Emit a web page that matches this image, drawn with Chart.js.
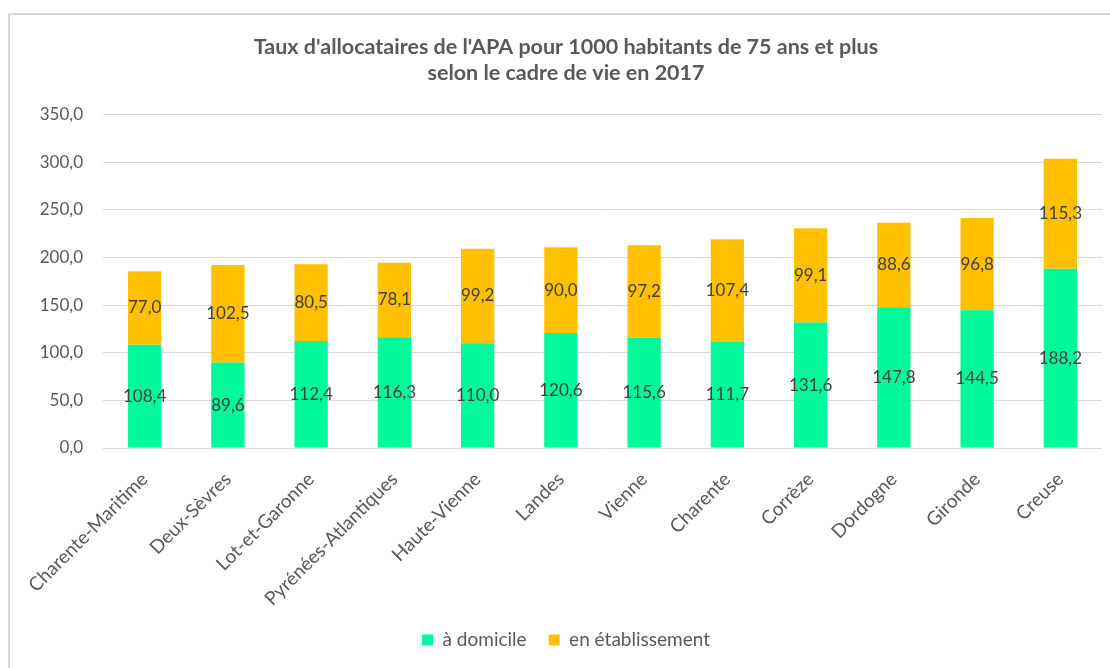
<!DOCTYPE html>
<html><head><meta charset="utf-8">
<script src="https://cdn.jsdelivr.net/npm/chart.js@4/dist/chart.umd.min.js"></script>
<style>
html,body{margin:0;padding:0;background:#fff;}
#frame{position:absolute;left:8px;top:13px;width:1200px;height:800px;border:2px solid #d9d9d9;box-sizing:border-box;}
#wrap{position:absolute;left:0;top:0;width:1110px;height:668px;}
</style></head>
<body>
<div id="frame"></div>
<div id="wrap"><canvas id="c" width="1110" height="668"></canvas></div>
<script>
const categories = ["Charente-Maritime","Deux-Sèvres","Lot-et-Garonne","Pyrénées-Atlantiques","Haute-Vienne","Landes","Vienne","Charente","Corrèze","Dordogne","Gironde","Creuse"];
const aDomicile = [108.4, 89.6, 112.4, 116.3, 110.0, 120.6, 115.6, 111.7, 131.6, 147.8, 144.5, 188.2];
const enEtablissement = [77.0, 102.5, 80.5, 78.1, 99.2, 90.0, 97.2, 107.4, 99.1, 88.6, 96.8, 115.3];
const yTicks = [0, 50, 100, 150, 200, 250, 300, 350];

const FONT = "Lato, 'Open Sans', sans-serif";
const fmt = v => v.toFixed(1).replace('.', ',');

const labelPlugin = {
  id: 'barLabels',
  afterDatasetsDraw(chart) {
    const ctx = chart.ctx;
    ctx.save();
    ctx.font = "17px " + FONT;
    ctx.fillStyle = "#404040";
    ctx.textAlign = "center";
    ctx.textBaseline = "middle";
    chart.data.datasets.forEach((ds, di) => {
      const meta = chart.getDatasetMeta(di);
      meta.data.forEach((bar, i) => {
        const y = (bar.y + bar.base) / 2;
        ctx.fillText(fmt(ds.data[i]), bar.x, y);
      });
    });
    ctx.restore();
  }
};

new Chart(document.getElementById('c'), {
  type: 'bar',
  data: {
    labels: categories,
    datasets: [
      { label: 'à domicile', data: aDomicile, backgroundColor: '#00F99A', barPercentage: 0.8, categoryPercentage: 0.5 },
      { label: 'en établissement', data: enEtablissement, backgroundColor: '#FFC000', barPercentage: 0.8, categoryPercentage: 0.5 }
    ]
  },
  plugins: [labelPlugin],
  options: {
    responsive: false,
    animation: false,
    layout: { padding: { left: 30, right: 8, top: 9, bottom: 8.5 } },
    plugins: {
      title: {
        display: true,
        text: ["Taux d'allocataires de l'APA pour 1000 habitants de 75 ans et plus", "selon le cadre de vie en 2017"],
        color: '#595959',
        font: { family: FONT, size: 21.5, weight: 'bold', lineHeight: 1.22 },
        padding: { top: 25, bottom: 28 }
      },
      legend: {
        position: 'bottom',
        labels: { color: '#595959', font: { family: FONT, size: 19 }, boxWidth: 11, boxHeight: 11, padding: 22 }
      },
      tooltip: { enabled: false }
    },
    scales: {
      x: {
        stacked: true,
        grid: { display: false, drawTicks: false },
        border: { display: false },
        afterFit: ax => { ax.height = 160.5; },
        ticks: { color: '#595959', font: { family: FONT, size: 19 }, minRotation: 45, maxRotation: 45, padding: 20 }
      },
      y: {
        stacked: true,
        min: 0, max: 350,
        afterBuildTicks: ax => { ax.ticks = yTicks.map(v => ({ value: v })); },
        afterFit: ax => { ax.width = 73; },
        grid: { color: '#d9d9d9', lineWidth: 1, drawTicks: false },
        border: { display: false },
        ticks: { color: '#595959', font: { family: FONT, size: 17 }, padding: 20, callback: v => fmt(v) }
      }
    }
  }
});
</script>
</body></html>
